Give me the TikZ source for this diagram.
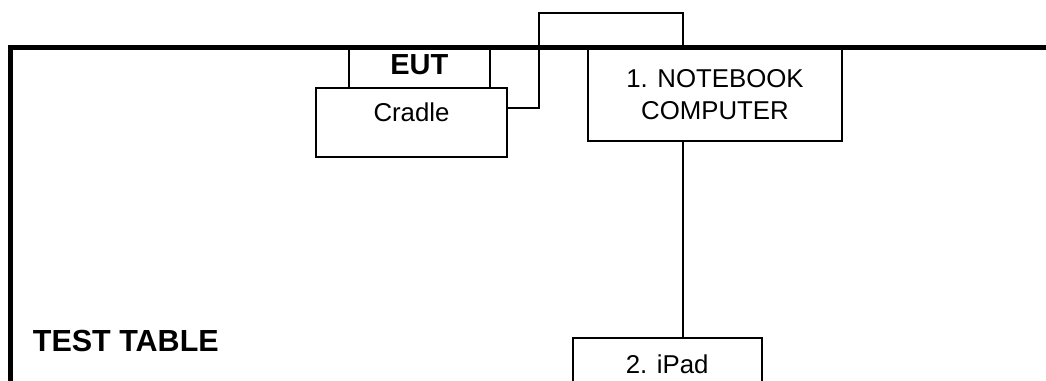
\documentclass[tikz,border=0pt]{standalone}
\usepackage{fontspec}
\setmainfont{Liberation Sans}
\usetikzlibrary{positioning}

\tikzset{
    unit/.style={draw, line width=2pt, inner sep=0pt, align=center,
        font=\fontsize{25.8}{31.6}\selectfont},
    cable/.style={line width=2pt},
    table/.style={line width=5pt, line join=miter}
}

\begin{document}
\begin{tikzpicture}[x=1pt, y=-1pt]
    \useasboundingbox (0,0) rectangle (1046,380);
    \clip (0,0) rectangle (1046,380);
    % draw units
    \node[unit, font=\bfseries\fontsize{29}{30}\selectfont, minimum width=141.3pt,
        minimum height=40pt, text height=26pt, text depth=14pt] (eut) at (419.3,68) {EUT};
    \node[unit, minimum width=191pt, minimum height=69pt,
        text height=33.7pt, text depth=35.3pt] (cradle) at (411.5,122.5) {Cradle};
    \node[unit, minimum width=253.4pt, minimum height=92.7pt] (nb) at (715,94.4)
        {1. NOTEBOOK\\COMPUTER};
    \node[unit, minimum width=189pt, text height=35.6pt, text depth=30pt]
        (ipad) at (667.2,370.5) {2. iPad};
    % cable corners
    \coordinate (c1) at (539.3,108);
    \coordinate (c2) at (539.3,13.3);
    \coordinate (c3) at (682.8,13.3);
    % draw cables
    \draw[cable] (cradle.east |- c1) -- (c1) -- (c2) -- (c3) -- (c3 |- nb.north);
    \draw[cable] (nb.south -| c3) -- (ipad.north -| c3);
    % draw test table
    \draw[table] (10.8,382) -- (10.8,47.3) -- (1048,47.3);
    \node[anchor=base west, inner sep=0pt, font=\bfseries\fontsize{30.5}{32}\selectfont]
        (tt) at (32.7,351.7) {TEST TABLE};
\end{tikzpicture}
\end{document}
